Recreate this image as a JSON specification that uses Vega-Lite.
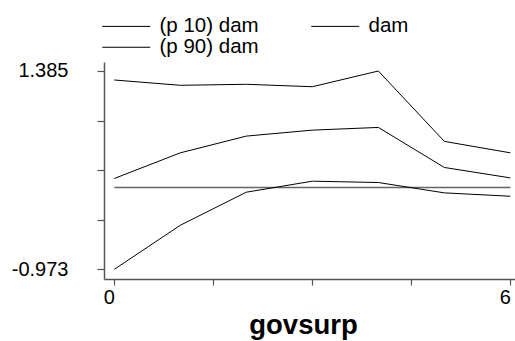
{
  "$schema": "https://vega.github.io/schema/vega-lite/v6.json",
  "width": 411,
  "height": 217,
  "autosize": {"type": "none"},
  "padding": {"left": 104, "top": 62, "right": 0, "bottom": 62},
  "background": "white",
  "config": {
    "view": {"stroke": null},
    "font": "Liberation Sans",
    "axis": {"grid": false, "domainColor": "#555555", "tickColor": "#555555", "labelColor": "black", "labelFont": "Liberation Sans", "labelFontSize": 20, "domainWidth": 1.5, "tickWidth": 1.2}
  },
  "datasets": {
    "lines": [
      {"govsurp": 0, "series": "(p 90) dam", "value": 1.278},
      {"govsurp": 1, "series": "(p 90) dam", "value": 1.215},
      {"govsurp": 2, "series": "(p 90) dam", "value": 1.227},
      {"govsurp": 3, "series": "(p 90) dam", "value": 1.198},
      {"govsurp": 4, "series": "(p 90) dam", "value": 1.385},
      {"govsurp": 5, "series": "(p 90) dam", "value": 0.548},
      {"govsurp": 6, "series": "(p 90) dam", "value": 0.412},
      {"govsurp": 0, "series": "dam", "value": 0.107},
      {"govsurp": 1, "series": "dam", "value": 0.412},
      {"govsurp": 2, "series": "dam", "value": 0.611},
      {"govsurp": 3, "series": "dam", "value": 0.682},
      {"govsurp": 4, "series": "dam", "value": 0.714},
      {"govsurp": 5, "series": "dam", "value": 0.238},
      {"govsurp": 6, "series": "dam", "value": 0.114},
      {"govsurp": 0, "series": "(p 10) dam", "value": -0.973},
      {"govsurp": 1, "series": "(p 10) dam", "value": -0.449},
      {"govsurp": 2, "series": "(p 10) dam", "value": -0.056},
      {"govsurp": 3, "series": "(p 10) dam", "value": 0.075},
      {"govsurp": 4, "series": "(p 10) dam", "value": 0.059},
      {"govsurp": 5, "series": "(p 10) dam", "value": -0.064},
      {"govsurp": 6, "series": "(p 10) dam", "value": -0.104}
    ],
    "zero": [
      {"govsurp": 0, "value": 0},
      {"govsurp": 6, "value": 0}
    ]
  },
  "layer": [
    {
      "data": {"name": "zero"},
      "mark": {"type": "line", "color": "#666666", "strokeWidth": 1.3},
      "encoding": {
        "x": {"field": "govsurp", "type": "quantitative"},
        "y": {"field": "value", "type": "quantitative"}
      }
    },
    {
      "data": {"name": "lines"},
      "mark": {"type": "line", "strokeWidth": 1},
      "encoding": {
        "x": {
          "field": "govsurp", "type": "quantitative",
          "scale": {"domain": [-0.156, 6.07], "nice": false, "zero": false},
          "axis": {
            "title": "govsurp", "titleFont": "Liberation Sans", "titleFontSize": 27.5, "titleFontWeight": "bold", "titleColor": "black",
            "titleX": 199, "titleY": 54, "titleAlign": "center", "titleBaseline": "alphabetic",
            "values": [0, 1.5, 3, 4.5, 6], "tickSize": 6, "labelPadding": 2,
            "labelAlign": "right", "labelDx": 1, "labelBound": false, "labelOverlap": false,
            "labelExpr": "datum.value == 0 ? '0' : (datum.value == 6 ? '6' : '')"
          }
        },
        "y": {
          "field": "value", "type": "quantitative",
          "scale": {"domain": [-1.088, 1.492], "nice": false, "zero": false},
          "axis": {
            "title": null,
            "values": [1.385, 0.7955, 0.206, -0.3835, -0.973], "tickSize": 7, "labelPadding": 29,
            "labelOverlap": false,
            "labelExpr": "datum.value > 1 ? '1.385' : (datum.value < -0.9 ? '-0.973' : '')"
          }
        },
        "color": {
          "field": "series", "type": "nominal",
          "sort": ["(p 10) dam", "dam", "(p 90) dam"],
          "scale": {"domain": ["(p 10) dam", "dam", "(p 90) dam"], "range": ["black", "black", "black"]},
          "legend": {
            "title": null, "orient": "none", "legendX": 12, "legendY": -46, "direction": "horizontal",
            "columns": 2, "columnPadding": 50, "rowPadding": -5.5, "padding": 0,
            "symbolType": "M-6,0H6", "symbolSize": 64, "symbolStrokeWidth": 1, "symbolStrokeColor": "black",
            "labelFont": "Liberation Sans", "labelFontSize": 20.5, "labelColor": "black", "labelOffset": 23
          }
        },
        "detail": {"field": "series"}
      }
    }
  ]
}
